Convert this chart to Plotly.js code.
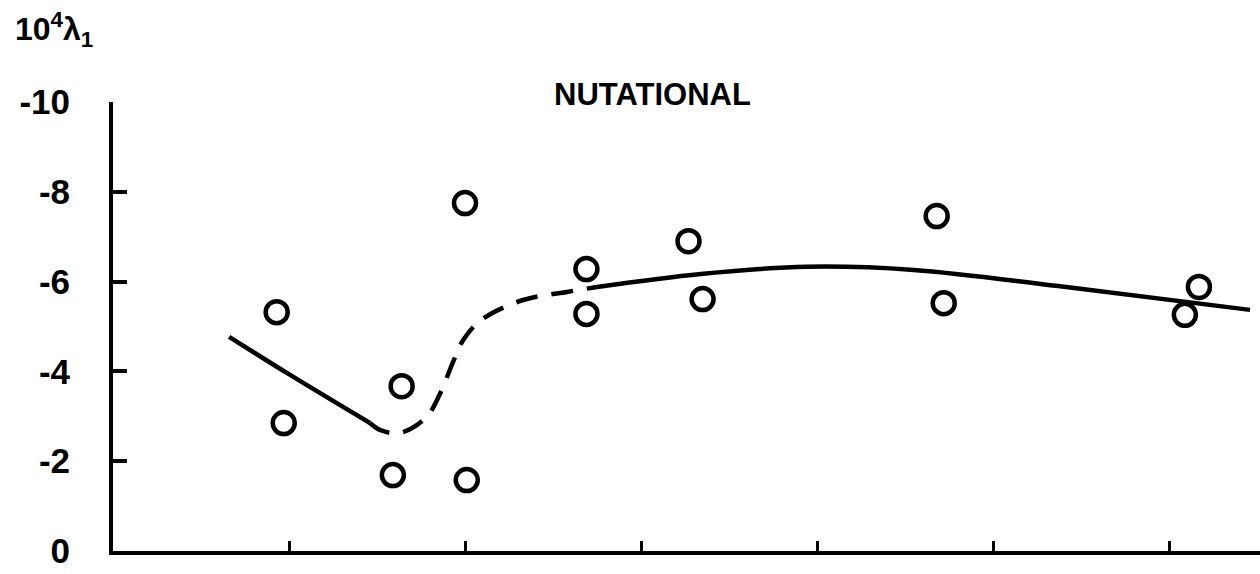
<!DOCTYPE html>
<html>
<head>
<meta charset="utf-8">
<script src="https://cdn.plot.ly/plotly-3.0.1.min.js"></script>
<style>html,body{margin:0;padding:0;background:#fff;}#chart{width:1260px;height:574px;}</style>
</head>
<body>
<div id="chart"></div>
<script>
// Observed data points (x in tick units, y = 10^4 lambda_1)
const pointX = [0.93, 0.97, 1.64, 1.59, 2.01, 2.00, 2.69, 2.69, 3.27, 3.35, 4.68, 4.72, 6.17, 6.09];
const pointY = [-5.32, -2.85, -3.67, -1.69, -1.58, -7.75, -6.28, -5.28, -6.90, -5.61, -7.46, -5.52, -5.88, -5.26];

// Fitted curve: solid left part
const solid1X = [0.66, 0.99, 1.46];
const solid1Y = [-4.77, -3.96, -2.85];
// Dashed middle part
const dashX = [1.46, 1.52, 1.63, 1.78, 1.86, 1.93, 1.99, 2.09, 2.33, 2.58, 2.75];
const dashY = [-2.85, -2.69, -2.63, -2.98, -3.52, -4.19, -4.70, -5.14, -5.59, -5.77, -5.88];
// Solid right part
const solid2X = [2.75, 3.34, 3.94, 4.55, 5.37, 6.46];
const solid2Y = [-5.88, -6.17, -6.33, -6.26, -5.90, -5.37];

const yTickVals = [0, -2, -4, -6, -8, -10];
const yTickText = ["0", "-2", "-4", "-6", "-8", "-10"];
const xTickVals = [1, 2, 3, 4, 5, 6];

const lineStyle = {color: '#000', width: 4.5, shape: 'spline'};

const traces = [
  {x: solid1X, y: solid1Y, mode: 'lines', line: lineStyle, hoverinfo: 'skip'},
  {x: dashX, y: dashY, mode: 'lines', line: Object.assign({}, lineStyle, {dash: '22px,14px'}), hoverinfo: 'skip'},
  {x: solid2X, y: solid2Y, mode: 'lines', line: lineStyle, hoverinfo: 'skip'},
  {x: pointX, y: pointY, mode: 'markers',
   marker: {symbol: 'circle-open', size: 22, color: '#000', line: {color: '#000', width: 4.5}}}
];

const font = {family: 'Liberation Sans, Arial, sans-serif', color: '#000'};

const layout = {
  width: 1260, height: 574,
  margin: {l: 113, r: 0, t: 102, b: 23},
  paper_bgcolor: '#fff', plot_bgcolor: '#fff',
  showlegend: false,
  xaxis: {
    range: [0, 6.517], showgrid: false, zeroline: false,
    showline: true, linecolor: '#000', linewidth: 4,
    tickmode: 'array', tickvals: xTickVals,
    ticks: 'inside', ticklen: 10, tickwidth: 3, tickcolor: '#000',
    showticklabels: false
  },
  yaxis: {
    range: [0, -10], showgrid: false, zeroline: false,
    showline: true, linecolor: '#000', linewidth: 4,
    tickmode: 'array', tickvals: yTickVals, ticktext: yTickText,
    ticks: 'inside', ticklen: 14, tickwidth: 4, tickcolor: '#000',
    ticklabelstandoff: 32,
    tickfont: Object.assign({}, font, {size: 35, weight: 'bold'})
  },
  annotations: [
    {text: '<b>NUTATIONAL</b>', xref: 'paper', yref: 'paper', x: (652 - 113) / 1147, y: 1 + 8 / 449,
     xanchor: 'center', yanchor: 'middle', showarrow: false,
     font: Object.assign({}, font, {size: 31})},
    {text: '<b>10<sup>4</sup>λ<sub>1</sub></b>', xref: 'paper', yref: 'paper',
     x: -100 / 1147, y: 1 + 72 / 449, xanchor: 'left', yanchor: 'middle', showarrow: false,
     font: Object.assign({}, font, {size: 32})}
  ]
};

Plotly.newPlot('chart', traces, layout, {staticPlot: true, displayModeBar: false});
</script>
</body>
</html>
